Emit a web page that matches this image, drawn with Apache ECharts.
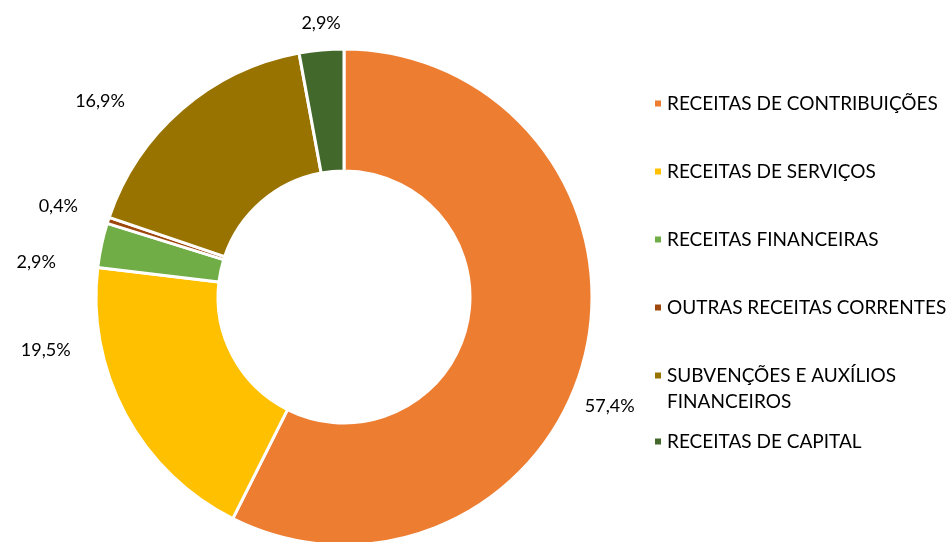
<!DOCTYPE html>
<html>
<head>
<meta charset="utf-8">
<script src="https://cdn.jsdelivr.net/npm/echarts@6/dist/echarts.min.js"></script>
<style>
  html, body { margin: 0; padding: 0; background: #fff; }
  #chart { width: 952px; height: 542px; }
</style>
</head>
<body>
<div id="chart"></div>
<script>
// receitas - participação %
var categorias = [
  'RECEITAS DE CONTRIBUIÇÕES',
  'RECEITAS DE SERVIÇOS',
  'RECEITAS FINANCEIRAS',
  'OUTRAS RECEITAS CORRENTES',
  'SUBVENÇÕES E AUXÍLIOS FINANCEIROS',
  'RECEITAS DE CAPITAL'
];
var valores = [57.4, 19.5, 2.9, 0.4, 16.9, 2.9];
var cores = ['#ED7D31', '#FFC000', '#70AD47', '#9E480E', '#997300', '#43682B'];

var fonte = 'Lato, "Noto Sans", sans-serif';

// ajuste dos rotulos (o excel nao poe no angulo do meio)
var ajusteRotulo = [[-27, 48], [-30, -73], [-19, 21], [-4, -9], [-36, 5], [30, -9]];

var dados = categorias.map(function (nome, i) {
  return { name: nome, value: valores[i], itemStyle: { color: cores[i] } };
});

var legX = 648;
var estiloLegenda = { fontFamily: fonte, fontSize: 19, color: '#000', lineHeight: 27 };

var myChart = echarts.init(document.getElementById('chart'));
myChart.setOption({
  animation: false,
  legend: [
    {
      orient: 'vertical',
      left: legX,
      top: 85,
      icon: 'rect',
      itemWidth: 8,
      itemHeight: 8,
      itemGap: 41,
      data: categorias.slice(0, 5),
      formatter: function (nome) {
        // a segunda linha vai no graphic abaixo
        return nome == 'SUBVENÇÕES E AUXÍLIOS FINANCEIROS' ? 'SUBVENÇÕES E AUXÍLIOS' : nome;
      },
      textStyle: estiloLegenda
    },
    {
      orient: 'vertical',
      left: legX,
      top: 423,
      icon: 'rect',
      itemWidth: 8,
      itemHeight: 8,
      data: categorias.slice(5),
      textStyle: estiloLegenda
    }
  ],
  graphic: [
    {
      type: 'text',
      x: legX + 19,
      y: 402,
      style: {
        text: 'FINANCEIROS',
        font: '19px ' + fonte,
        fill: '#000',
        verticalAlign: 'middle'
      }
    }
  ],
  series: [
    {
      type: 'pie',
      center: [344, 297],
      radius: [126, 248],
      startAngle: 90,
      clockwise: true,
      data: dados,
      itemStyle: { borderColor: '#fff', borderWidth: 3 },
      label: {
        show: true,
        position: 'outside',
        formatter: function (p) {
          return p.value.toFixed(1).replace('.', ',') + '%';
        },
        fontFamily: fonte,
        fontSize: 18,
        color: '#000'
      },
      labelLine: { show: false, length: 18, length2: 4 },
      labelLayout: function (p) {
        var a = ajusteRotulo[p.dataIndex];
        return { dx: a[0], dy: a[1] };
      }
    }
  ]
});
</script>
</body>
</html>
